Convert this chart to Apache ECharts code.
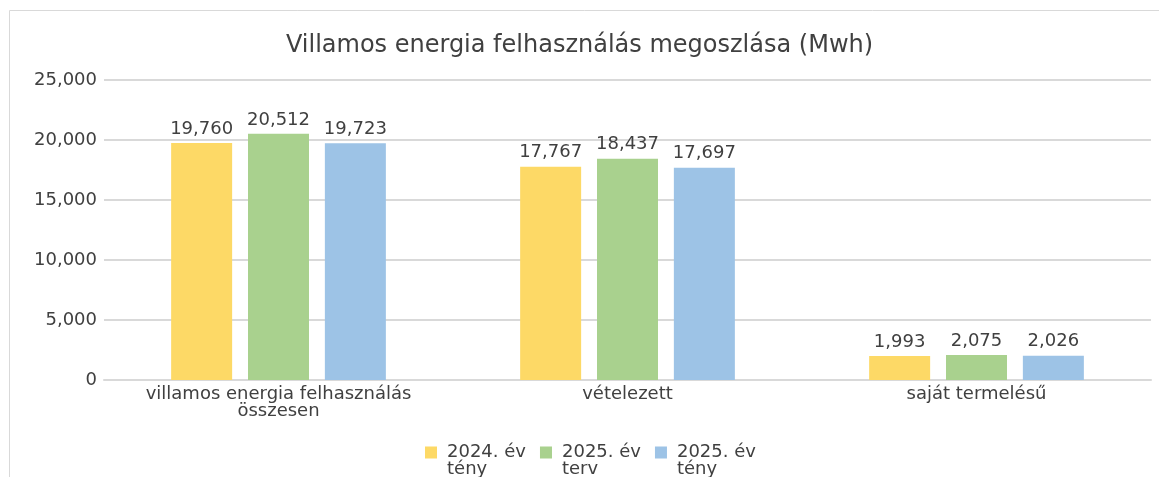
<!DOCTYPE html>
<html lang="hu">
<head>
    <meta charset="UTF-8">
    <title>Villamos energia</title>
    <script src="https://cdn.jsdelivr.net/npm/echarts@6/dist/echarts.min.js"></script>
    <style>
        html, body { margin: 0; padding: 0; background: #fff; }
        #main { width: 1159px; height: 477px; }
    </style>
</head>
<body>
<div id="main"></div>
<script>
    // adatok
    var categories = ['villamos energia felhasználás\nösszesen', 'vételezett', 'saját termelésű'];
    var seriesNames = ['2024. év\ntény', '2025. év\nterv', '2025. év\ntény'];
    var tény2024 = [19760, 17767, 1993];
    var terv2025 = [20512, 18437, 2075];
    var tény2025 = [19723, 17697, 2026];
    var colors = ['#FDD966', '#A9D18E', '#9DC3E6'];

    var font = '"DejaVu Sans", sans-serif';
    var fmt = function (v) { return v.toLocaleString('en-US'); };
    // négyzet a jelmagyarázat első sorához igazítva
    var legendIcon = 'path://M0,0H12V12H0Z M0,28L0.01,28L0,27.99Z';

    var myChart = echarts.init(document.getElementById('main'));

    function bar(name, data, color) {
        return {
            name: name,
            type: 'bar',
            data: data,
            barWidth: 61,
            barGap: '26%',
            itemStyle: {color: color},
            label: {
                show: true,
                position: 'top',
                distance: 5,
                color: '#404040',
                fontFamily: font,
                fontSize: 18,
                formatter: function (p) { return fmt(p.value); }
            }
        };
    }

    var option = {
        animation: false,
        title: {
            text: 'Villamos energia felhasználás megoszlása (Mwh)',
            left: 'center',
            top: 29,
            textStyle: {color: '#404040', fontFamily: font, fontSize: 24, fontWeight: 'normal'}
        },
        graphic: [{
            type: 'rect',
            shape: {x: 9.5, y: 10.5, width: 1200, height: 600},
            style: {fill: 'none', stroke: '#d9d9d9', lineWidth: 1},
            silent: true
        }],
        legend: {
            top: 438,
            left: 420,
            itemWidth: 12,
            itemHeight: 28,
            itemGap: 14,
            icon: legendIcon,
            textStyle: {color: '#404040', fontFamily: font, fontSize: 18, lineHeight: 17, padding: [0, 0, 0, 5]}
        },
        grid: {left: 104, right: 8, top: 80, bottom: 97},
        xAxis: {
            type: 'category',
            data: categories,
            axisLine: {lineStyle: {color: '#d9d9d9', width: 2}},
            axisTick: {show: false},
            axisLabel: {color: '#404040', fontFamily: font, fontSize: 18, lineHeight: 17, margin: 6}
        },
        yAxis: {
            type: 'value',
            min: 0,
            max: 25000,
            interval: 5000,
            axisLine: {show: false},
            axisTick: {show: false},
            splitLine: {lineStyle: {color: '#d9d9d9', width: 2}},
            axisLabel: {color: '#404040', fontFamily: font, fontSize: 18, margin: 7, formatter: fmt}
        },
        series: [
            bar(seriesNames[0], tény2024, colors[0]),
            bar(seriesNames[1], terv2025, colors[1]),
            bar(seriesNames[2], tény2025, colors[2])
        ]
    };

    myChart.setOption(option);
</script>
</body>
</html>
